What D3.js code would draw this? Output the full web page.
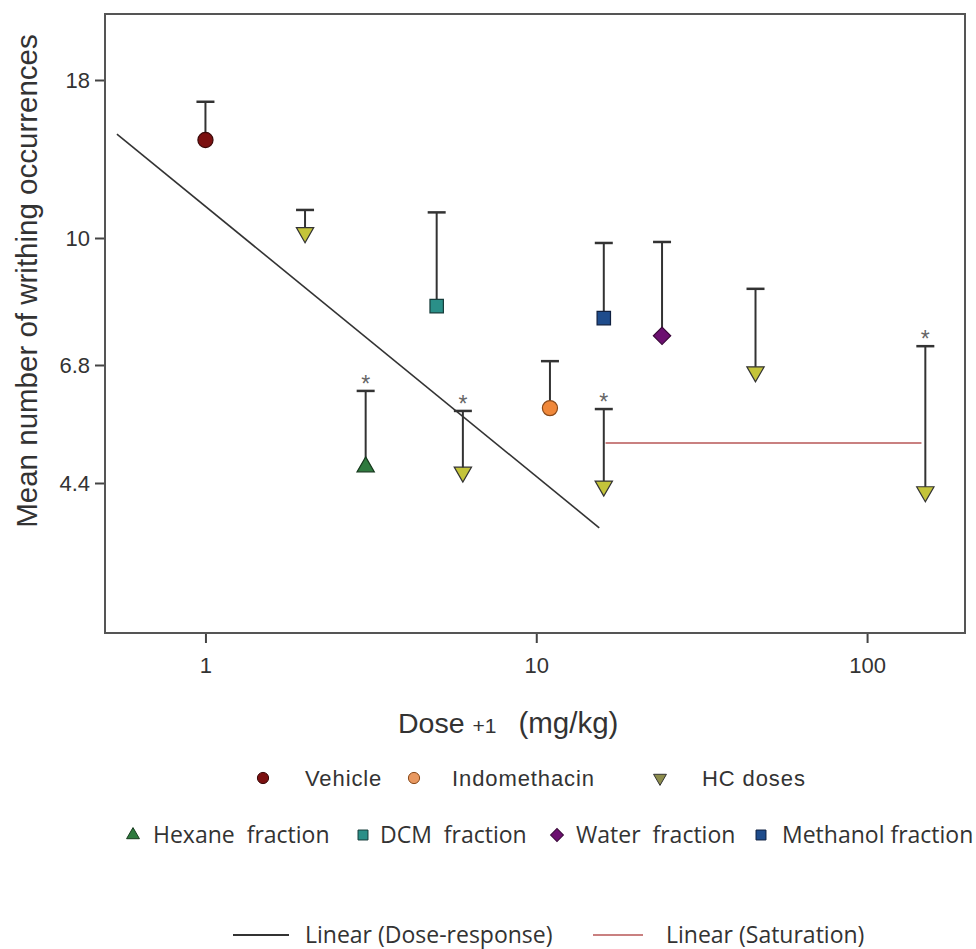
<!DOCTYPE html>
<html>
<head>
<meta charset="utf-8">
<script src="https://cdn.jsdelivr.net/npm/d3@7"></script>
<style>
  body { margin: 0; background: #fff; }
  svg { display: block; }
  .axis text { font-family: "Liberation Sans", Arial, sans-serif; font-size: 22px; fill: #333; }
  .axis line { stroke: #444; stroke-width: 2; }
</style>
</head>
<body>
<svg width="976" height="949"></svg>
<script>
// values (dose + 1, mean, upper end of error bar)
var groups = ["Vehicle", "HC doses", "Hexane fraction", "DCM fraction", "HC doses",
  "Indomethacin", "Methanol fraction", "HC doses", "Water fraction", "HC doses", "HC doses"];
var doses = [1, 2, 3.05, 5, 6, 11, 16, 16, 24, 46, 150];
var means = [14.4, 10.2, 4.67, 8.13, 4.58, 5.8, 7.84, 4.35, 7.43, 6.63, 4.26];
var uppers = [16.6, 11.1, 6.18, 11.0, 5.74, 6.88, 9.85, 5.78, 9.88, 8.57, 7.2];
var significant = [false, false, true, false, true, false, false, true, false, false, true];

var doseResponseX = [0.54, 15.5];
var doseResponseY = [14.72, 3.73];
var saturationX = [16.2, 146];
var saturationY = [5.1, 5.1];

var xTicks = [1, 10, 100];
var yTicks = [4.4, 6.8, 10, 18];

var styles = {
  "Vehicle": { shape: "circle", fill: "#7b1010", stroke: "#3a0808" },
  "Indomethacin": { shape: "circle", fill: "#f0883a", stroke: "#8a4a1a" },
  "HC doses": { shape: "down", fill: "#c4c43a", stroke: "#333" },
  "Hexane fraction": { shape: "up", fill: "#2e7a3e", stroke: "#173a1e" },
  "DCM fraction": { shape: "square", fill: "#2a8f88", stroke: "#163c3a" },
  "Water fraction": { shape: "diamond", fill: "#6c1070", stroke: "#3a083a" },
  "Methanol fraction": { shape: "square", fill: "#1e4c8c", stroke: "#0f2040" }
};

var svg = d3.select("svg"),
  margin = { top: 14, left: 105 },
  width = 860,
  height = 619;

var x = d3.scaleLog().domain([0.497, 197.7]).range([0, width]);
// axis labels are not evenly spaced on a log scale: piecewise mapping
var y = d3.scaleLog()
  .domain([23.0, 18, 10, 6.8, 4.4, 2.53])
  .range([0, 66, 224, 351, 469, 619]);

var g = svg.append("g")
  .attr("transform", "translate(" + margin.left + "," + margin.top + ")");

g.append("g")
  .attr("class", "axis")
  .attr("transform", "translate(0," + height + ")")
  .call(d3.axisBottom(x).tickValues(xTicks).tickFormat(String).tickSize(10).tickPadding(14))
  .call(function (a) { a.select(".domain").remove(); });

g.append("g")
  .attr("class", "axis")
  .call(d3.axisLeft(y).tickValues(yTicks).tickFormat(String).tickSize(10).tickPadding(5))
  .call(function (a) { a.select(".domain").remove(); });

g.append("rect")
  .attr("width", width)
  .attr("height", height)
  .attr("fill", "none")
  .attr("stroke", "#555")
  .attr("stroke-width", 2);

// trend lines
var line = d3.line()
  .x(function (d) { return x(d[0]); })
  .y(function (d) { return y(d[1]); });

g.append("path")
  .datum(d3.zip(doseResponseX, doseResponseY))
  .attr("d", line)
  .attr("fill", "none")
  .attr("stroke", "#333")
  .attr("stroke-width", 1.6);

g.append("path")
  .datum(d3.zip(saturationX, saturationY))
  .attr("d", line)
  .attr("fill", "none")
  .attr("stroke", "#c98080")
  .attr("stroke-width", 2);

function symbolPath(shape, scale) {
  var s = scale || 1;
  if (shape === "circle") return d3.symbol(d3.symbolCircle, 180 * s)();
  if (shape === "up" || shape === "down") return d3.symbol(d3.symbolTriangle, 130 * s)();
  if (shape === "diamond") return d3.symbol(d3.symbolSquare, 150 * s)();
  return d3.symbol(d3.symbolSquare, 180 * s)();
}
function symbolRotate(shape) {
  if (shape === "down") return 180;
  if (shape === "diamond") return 45;
  return 0;
}

var pts = doses.map(function (d, i) {
  return { dose: d, mean: means[i], upper: uppers[i], group: groups[i], sig: significant[i] };
});

var bars = g.selectAll(".err").data(pts).enter().append("g").attr("class", "err");
bars.append("line")
  .attr("x1", function (d) { return x(d.dose); })
  .attr("x2", function (d) { return x(d.dose); })
  .attr("y1", function (d) { return y(d.mean); })
  .attr("y2", function (d) { return y(d.upper); })
  .attr("stroke", "#333")
  .attr("stroke-width", 2);
bars.append("line")
  .attr("x1", function (d) { return x(d.dose) - 9; })
  .attr("x2", function (d) { return x(d.dose) + 9; })
  .attr("y1", function (d) { return y(d.upper); })
  .attr("y2", function (d) { return y(d.upper); })
  .attr("stroke", "#333")
  .attr("stroke-width", 2.5);

g.selectAll(".pt").data(pts).enter().append("path")
  .attr("class", "pt")
  .attr("d", function (d) { return symbolPath(styles[d.group].shape); })
  .attr("transform", function (d) {
    return "translate(" + x(d.dose) + "," + y(d.mean) + ") rotate(" + symbolRotate(styles[d.group].shape) + ")";
  })
  .attr("fill", function (d) { return styles[d.group].fill; })
  .attr("stroke", function (d) { return styles[d.group].stroke; })
  .attr("stroke-width", 1.2);

g.selectAll(".star").data(pts.filter(function (d) { return d.sig; })).enter().append("text")
  .attr("class", "star")
  .attr("x", function (d) { return x(d.dose); })
  .attr("y", function (d) { return y(d.upper) + 1; })
  .attr("text-anchor", "middle")
  .attr("font-family", "Liberation Sans, Arial, sans-serif")
  .attr("font-size", 23)
  .attr("fill", "#666")
  .text("*");

// axis titles
svg.append("text")
  .attr("transform", "translate(37,281) rotate(-90)")
  .attr("text-anchor", "middle")
  .attr("font-family", "Liberation Sans, Arial, sans-serif")
  .attr("font-size", 29.5)
  .attr("fill", "#333")
  .text("Mean number of writhing occurrences");

var xt = svg.append("text")
  .attr("x", 398)
  .attr("y", 733)
  .attr("font-family", "Liberation Sans, Arial, sans-serif")
  .attr("fill", "#333");
xt.append("tspan").attr("font-size", 28.5).text("Dose ");
xt.append("tspan").attr("font-size", 21).text("+1");
xt.append("tspan").attr("font-size", 29.5).attr("dx", 22).text("(mg/kg)");

// legend
var legendRows = [
  { items: ["Vehicle", "Indomethacin", "HC doses"], markX: [263, 414, 660], textX: [305, 452, 702], y: 778,
    font: "Liberation Sans, Arial, sans-serif", size: 22, spacing: 0.9 },
  { items: ["Hexane fraction", "DCM fraction", "Water fraction", "Methanol fraction"],
    markX: [133, 363, 557, 761], textX: [153, 380, 576, 782], y: 835,
    font: "Open Sans, sans-serif", size: 23, spacing: 0 }
];
var legendLabels = {
  "Hexane fraction": "Hexane  fraction",
  "DCM fraction": "DCM  fraction",
  "Water fraction": "Water  fraction",
  "Methanol fraction": "Methanol fraction"
};
var legendFill = { "HC doses": "#8c8c4c", "Indomethacin": "#e89860" };

legendRows.forEach(function (row) {
  row.items.forEach(function (name, i) {
    var st = styles[name];
    svg.append("path")
      .attr("d", symbolPath(st.shape, 0.55))
      .attr("transform", "translate(" + row.markX[i] + "," + row.y + ") rotate(" + symbolRotate(st.shape) + ")")
      .attr("fill", legendFill[name] || st.fill)
      .attr("stroke", st.stroke)
      .attr("stroke-width", 1);
    svg.append("text")
      .attr("x", row.textX[i])
      .attr("y", row.y + 8)
      .attr("font-family", row.font)
      .attr("font-size", row.size)
      .attr("letter-spacing", row.spacing)
      .attr("fill", "#333")
      .style("white-space", "pre")
      .text(legendLabels[name] || name);
  });
});

var lineLegend = [
  { label: "Linear (Dose-response)", color: "#333", x1: 233, x2: 289, tx: 305 },
  { label: "Linear (Saturation)", color: "#c98080", x1: 593, x2: 643, tx: 666 }
];
lineLegend.forEach(function (d) {
  svg.append("line")
    .attr("x1", d.x1).attr("x2", d.x2)
    .attr("y1", 935).attr("y2", 935)
    .attr("stroke", d.color)
    .attr("stroke-width", 2);
  svg.append("text")
    .attr("x", d.tx)
    .attr("y", 943)
    .attr("font-family", "Open Sans, sans-serif")
    .attr("font-size", 23)
    .attr("fill", "#333")
    .text(d.label);
});
</script>
</body>
</html>
